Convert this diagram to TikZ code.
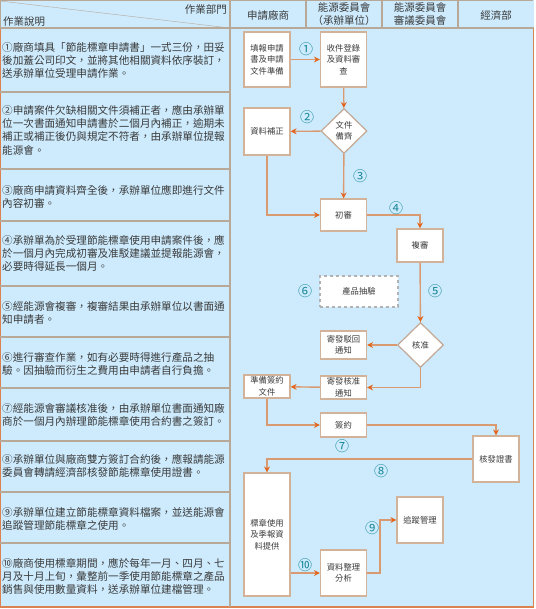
\documentclass[tikz,border=0pt]{standalone}
\usepackage{fontspec}
\newfontfamily\cjk{Noto Sans CJK TC}
\usetikzlibrary{shapes.geometric,arrows.meta}

\definecolor{paper}{HTML}{CDEBFD}
\definecolor{ink}{HTML}{3A3A3A}
\definecolor{rule}{HTML}{B8A898}
\definecolor{edge}{HTML}{DC8250}
\definecolor{boxline}{HTML}{D3B29A}
\definecolor{flowline}{HTML}{D99A72}
\definecolor{tipcol}{HTML}{E4661E}
\definecolor{numcol}{HTML}{1C8A9A}

\newcommand{\descfont}{\cjk\fontsize{10.6}{13.3}\selectfont}
\newcommand{\boxfont}{\cjk\fontsize{8.3}{11.5}\selectfont}
\newcommand{\headfont}{\cjk\fontsize{10.5}{13}\selectfont}

\begin{document}
\begin{tikzpicture}[x=1pt, y=-1pt,
  desc/.style={anchor=north west, inner sep=0pt, align=left, text=ink, font=\descfont},
  head/.style={inner sep=0pt, align=center, text=ink, font=\headfont},
  box/.style={draw=boxline, fill=white, line width=1.2pt, inner sep=1pt, align=center,
    text=ink, font=\boxfont, minimum width=46pt},
  check/.style={diamond, draw=boxline!80!gray, fill=white, line width=1.2pt, inner sep=0pt,
    align=center, text=ink, font=\boxfont, minimum width=46pt, minimum height=45pt},
  flow/.style={draw=flowline, line width=1.4pt, -{Stealth[length=6pt, width=6pt, color=tipcol]}},
  num/.style={text=numcol, inner sep=0pt, font=\cjk\fontsize{14}{14}\selectfont}]
  \useasboundingbox (0,0) rectangle (535,609);
  \fill[paper] (0,0) rectangle (534,608);

  % table frame and header
  \draw[rule, line width=1.2pt] (0.6,607) -- (0.6,0.6) -- (533.4,0.6);
  \draw[edge, line width=1.2pt] (0.6,28) -- (0.6,607) -- (533.4,607) -- (533.4,28);
  \draw[rule, line width=1.2pt] (0,28) -- (534,28);
  \draw[rule, line width=1.2pt] (230,0) -- (230,607);
  \foreach \x in {306,382,458} \draw[rule, line width=1.2pt] (\x,0) -- (\x,28);
  \draw[rule] (0,1) -- (230,28);
  \foreach \y in {92,169,221,286,337,388,441,492,543}
    \draw[rule, line width=1.2pt] (0,\y) -- (230,\y);

  \node[head, anchor=east] (dept) at (227,9) {作業部門};
  \node[head, anchor=west] (note) at (3,22) {作業說明};
  \node[head] (h1) at (268,15) {申請廠商};
  \node[head] (h2) at (344,14.5) {能源委員會\\（承辦單位）};
  \node[head] (h3) at (420,14.5) {能源委員會\\審議委員會};
  \node[head] (h4) at (496,15) {經濟部};

  % explanations, one per row
  \node[desc] (d1) at (2,42) {①廠商填具「節能標章申請書」一式三份，田妥\\後加蓋公司印文，並將其他相關資料依序裝訂，\\送承辦單位受理申請作業。};
  \node[desc] (d2) at (2,105) {②申請案件欠缺相關文件須補正者，應由承辦單\\位一次書面通知申請書於二個月內補正，逾期未\\補正或補正後仍與規定不符者，由承辦單位提報\\能源會。};
  \node[desc] (d3) at (2,185) {③廠商申請資料齊全後，承辦單位應即進行文件\\內容初審。};
  \node[desc] (d4) at (2,235) {④承辦單為於受理節能標章使用申請案件後，應\\於一個月內完成初審及准駁建議並提報能源會，\\必要時得延長一個月。};
  \node[desc] (d5) at (2,301) {⑤經能源會複審，複審結果由承辦單位以書面通\\知申請者。};
  \node[desc] (d6) at (2,352) {⑥進行審查作業，如有必要時得進行產品之抽\\驗。因抽驗而衍生之費用由申請者自行負擔。};
  \node[desc] (d7) at (2,403) {⑦經能源會審議核准後，由承辦單位書面通知廠\\商於一個月內辦理節能標章使用合約書之簽訂。};
  \node[desc] (d8) at (2,454) {⑧承辦單位與廠商雙方簽訂合約後，應報請能源\\委員會轉請經濟部核發節能標章使用證書。};
  \node[desc] (d9) at (2,507) {⑨承辦單位建立節能標章資料檔案，並送能源會\\追蹤管理節能標章之使用。};
  \node[desc] (d10) at (2,558) {⑩廠商使用標章期間，應於每年一月、四月、七\\月及十月上旬，彙整前一季使用節能標章之產品\\銷售與使用數量資料，送承辦單位建檔管理。};

  % flow boxes
  \node[box, minimum height=55pt] (fill) at (267,59.5) {填報申請\\書及申請\\文件準備};
  \node[box, minimum height=55pt] (receive) at (343.5,59.5) {收件登錄\\及資料審\\查};
  \node[check] (complete) at (344,131) {文件\\備齊};
  \node[box, minimum height=47pt] (amend) at (267,131.5) {資料補正};
  \node[box, minimum height=32pt] (first) at (343.5,215) {初審};
  \node[box, minimum height=33pt] (second) at (420,245.5) {複審};
  \node[box, draw=gray!60, dashed, minimum width=78pt, minimum height=31pt] (sample) at (359,291.5) {產品抽驗};
  \node[check] (approve) at (420.5,345) {核准};
  \node[box, minimum height=28pt] (reject) at (343.5,345) {寄發駁回\\通知};
  \node[box, minimum height=23pt] (notice) at (343.5,387.5) {寄發核准\\通知};
  \node[box, minimum height=23pt] (prepare) at (267,386.5) {準備簽約\\文件};
  \node[box, minimum height=24pt] (sign) at (343.5,425) {簽約};
  \node[box, minimum height=46pt] (cert) at (496,459) {核發證書};
  \node[box, minimum height=123pt] (report) at (267,534.5) {標章使用\\及季報資\\料提供};
  \node[box, minimum height=46pt] (analyse) at (343.5,573) {資料整理\\分析};
  \node[box, minimum height=46pt] (track) at (420,520) {追蹤管理};

  % connectors
  \draw[flow] (fill) -- (receive);
  \draw[flow] (receive) -- (complete);
  \draw[flow] (complete) -- (amend);
  \draw[flow] (amend) |- (first);
  \draw[flow] (complete) -- (first);
  \draw[flow] (first) -| (second);
  \draw[flow] (second) -- (approve);
  \draw[flow] (approve) -- (reject);
  \draw[flow] (approve) |- (notice);
  \draw[flow] (notice) -- (prepare);
  \draw[flow] (prepare) |- (sign);
  \draw[flow] (sign) -| (cert);
  \draw[flow] (cert) -| (report);
  \draw[flow] (report.east |- analyse.west) -- (analyse);
  \draw[flow] (analyse.east) -- ++(13,0) |- (track);

  % step numbers
  \node[num] (n1) at (306,49) {①};
  \node[num] (n2) at (307,117) {②};
  \node[num] (n3) at (360,176) {③};
  \node[num] (n4) at (396,208) {④};
  \node[num] (n5) at (435,291) {⑤};
  \node[num] (n6) at (305,291) {⑥};
  \node[num] (n7) at (342,446) {⑦};
  \node[num] (n8) at (381,471) {⑧};
  \node[num] (n9) at (372,528) {⑨};
  \node[num] (n10) at (305,565) {⑩};
\end{tikzpicture}
\end{document}
